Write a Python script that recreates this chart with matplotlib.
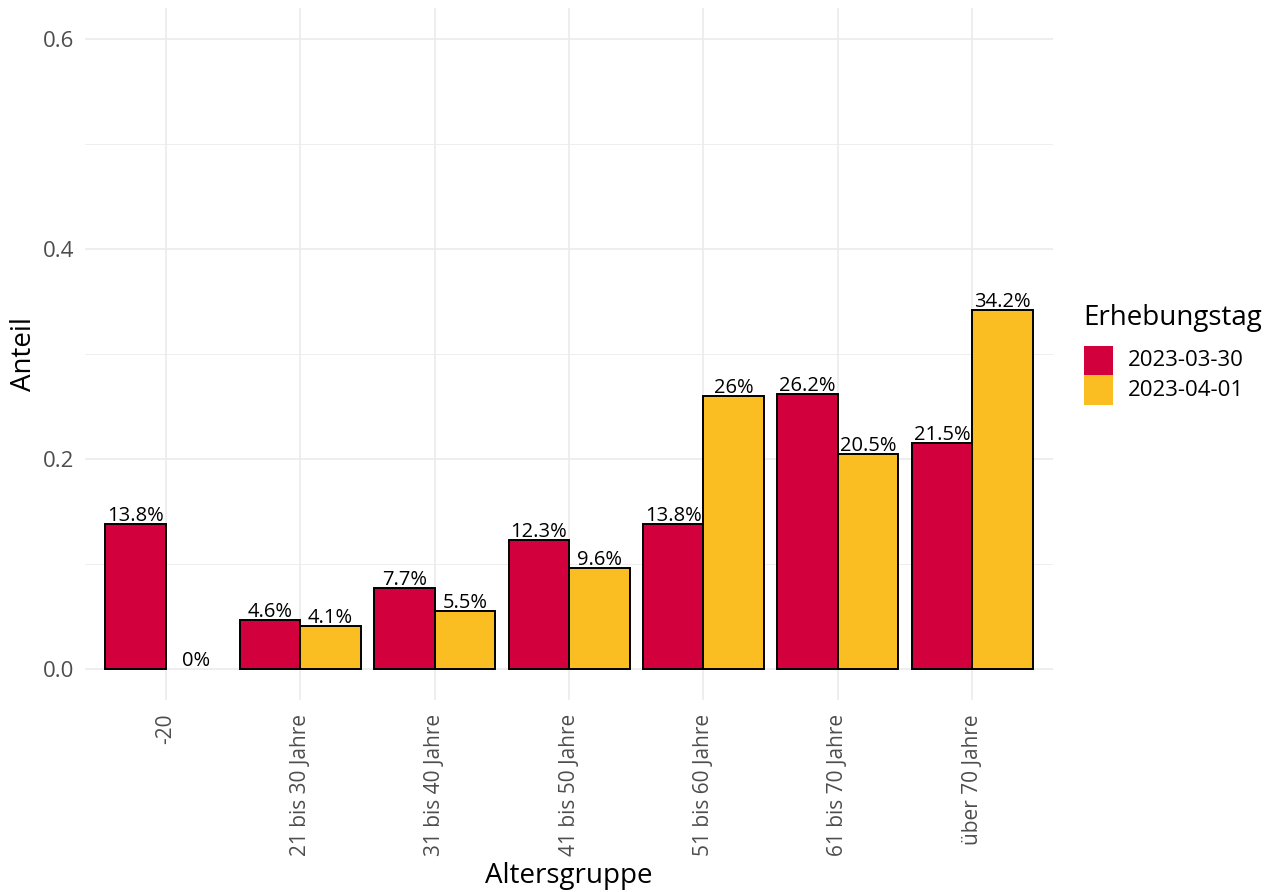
import numpy as np
import matplotlib
matplotlib.use('Agg')
import matplotlib.pyplot as plt
from matplotlib.patches import Rectangle

plt.rcParams['font.family'] = ['Open Sans', 'DejaVu Sans']

groups = ['-20', '21 bis 30 Jahre', '31 bis 40 Jahre', '41 bis 50 Jahre',
          '51 bis 60 Jahre', '61 bis 70 Jahre', 'über 70 Jahre']
days = ['2023-03-30', '2023-04-01']
share_0330 = [0.138, 0.046, 0.077, 0.123, 0.138, 0.262, 0.215]
share_0401 = [0.0, 0.041, 0.055, 0.096, 0.26, 0.205, 0.342]
colors = ['#D2003C', '#FABE22']

W, H = 1280, 892
fig = plt.figure(figsize=(12.8, 8.92), dpi=100)
ax = fig.add_axes([0.0664, 0.2152, 0.7563, 0.7758])

x = np.arange(len(groups))
w = 0.45
for i, (vals, col) in enumerate(zip([share_0330, share_0401], colors)):
    pos = x + (i - 0.5) * w
    lw = [1.4 if v > 0 else 0 for v in vals]
    ax.bar(pos, vals, width=w, color=col, edgecolor='black', linewidth=lw, zorder=3)
    for p, v in zip(pos, vals):
        lab = f"{v*100:.1f}".rstrip('0').rstrip('.') + '%'
        ax.text(p, v - 0.002, lab, ha='center', va='bottom', fontsize=14.5,
                color='black', zorder=4)

ax.set_xlim(-0.6, 6.6)
ax.set_ylim(-0.03, 0.63)
ax.set_yticks([0.0, 0.2, 0.4, 0.6])
ax.set_yticks([0.1, 0.3, 0.5], minor=True)
ax.set_yticklabels(['0.0', '0.2', '0.4', '0.6'])
ax.set_xticks(x)
ax.set_xticklabels(groups, rotation=90, ha='center', va='top')
ax.tick_params(axis='both', which='both', length=0, labelcolor='#4D4D4D')
ax.tick_params(axis='x', pad=10, labelsize=15)
ax.tick_params(axis='y', pad=8, labelsize=16)
ax.grid(True, which='major', color='#EBEBEB', linewidth=1.2, zorder=0)
ax.grid(True, which='minor', axis='y', color='#EBEBEB', linewidth=0.6, zorder=0)
for s in ax.spines.values():
    s.set_visible(False)
ax.set_xlabel('Altersgruppe', fontsize=20, labelpad=4)
ax.set_ylabel('Anteil', fontsize=20, labelpad=3)

# legend drawn by hand in figure pixels
fig.text(1083 / W, 1 - 318 / H, 'Erhebungstag', fontsize=20, ha='left', va='center')
for k, (lab, col) in enumerate(zip(days, colors)):
    top = 346 + k * 29.5
    fig.patches.append(Rectangle((1084 / W, 1 - (top + 29) / H), 29 / W, 29 / H,
                                 facecolor=col, edgecolor='none',
                                 transform=fig.transFigure, figure=fig))
    fig.text(1128 / W, 1 - (top + 15) / H, lab, fontsize=16, ha='left', va='center')

fig.savefig('out.png', dpi=100)
